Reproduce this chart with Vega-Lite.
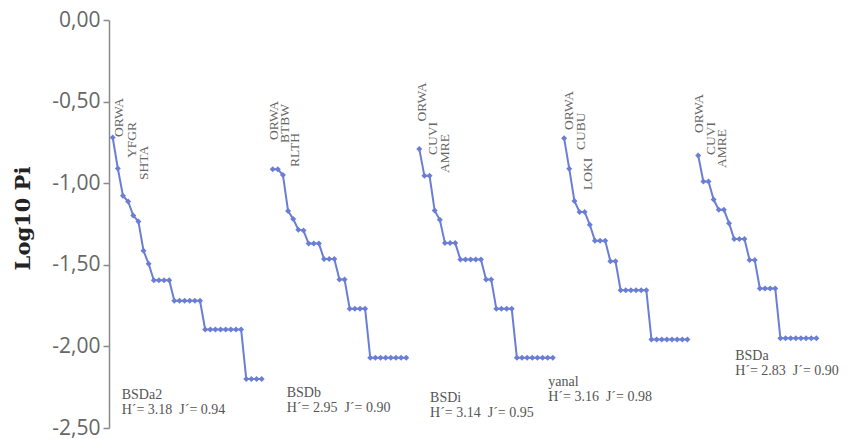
{
  "$schema": "https://vega.github.io/schema/vega-lite/v6.json",
  "autosize": {"type": "none"},
  "padding": {"left": 109, "top": 20, "right": 2, "bottom": 11},
  "width": 750,
  "height": 408,
  "background": "white",
  "config": {"view": {"stroke": null}},
  "datasets": {
    "curves": [
      {"site": "BSDa2", "x": 0.72, "logpi": -0.72}, {"site": "BSDa2", "x": 1.72, "logpi": -0.91}, {"site": "BSDa2", "x": 2.72, "logpi": -1.077}, {"site": "BSDa2", "x": 3.72, "logpi": -1.112}, {"site": "BSDa2", "x": 4.72, "logpi": -1.198}, {"site": "BSDa2", "x": 5.72, "logpi": -1.234}, {"site": "BSDa2", "x": 6.72, "logpi": -1.414}, {"site": "BSDa2", "x": 7.72, "logpi": -1.494},
      {"site": "BSDa2", "x": 8.72, "logpi": -1.595}, {"site": "BSDa2", "x": 9.72, "logpi": -1.595}, {"site": "BSDa2", "x": 10.72, "logpi": -1.595}, {"site": "BSDa2", "x": 11.72, "logpi": -1.595},
      {"site": "BSDa2", "x": 12.72, "logpi": -1.721}, {"site": "BSDa2", "x": 13.72, "logpi": -1.721}, {"site": "BSDa2", "x": 14.72, "logpi": -1.721}, {"site": "BSDa2", "x": 15.72, "logpi": -1.721}, {"site": "BSDa2", "x": 16.72, "logpi": -1.721}, {"site": "BSDa2", "x": 17.72, "logpi": -1.721},
      {"site": "BSDa2", "x": 18.72, "logpi": -1.896}, {"site": "BSDa2", "x": 19.72, "logpi": -1.896}, {"site": "BSDa2", "x": 20.72, "logpi": -1.896}, {"site": "BSDa2", "x": 21.72, "logpi": -1.896}, {"site": "BSDa2", "x": 22.72, "logpi": -1.896}, {"site": "BSDa2", "x": 23.72, "logpi": -1.896}, {"site": "BSDa2", "x": 24.72, "logpi": -1.896}, {"site": "BSDa2", "x": 25.72, "logpi": -1.896},
      {"site": "BSDa2", "x": 26.72, "logpi": -2.199}, {"site": "BSDa2", "x": 27.72, "logpi": -2.199}, {"site": "BSDa2", "x": 28.72, "logpi": -2.199}, {"site": "BSDa2", "x": 29.72, "logpi": -2.199},

      {"site": "BSDb", "x": 31.86, "logpi": -0.915}, {"site": "BSDb", "x": 32.86, "logpi": -0.915}, {"site": "BSDb", "x": 33.86, "logpi": -0.95}, {"site": "BSDb", "x": 34.86, "logpi": -1.17}, {"site": "BSDb", "x": 35.86, "logpi": -1.22}, {"site": "BSDb", "x": 36.86, "logpi": -1.285}, {"site": "BSDb", "x": 37.86, "logpi": -1.29},
      {"site": "BSDb", "x": 38.86, "logpi": -1.37}, {"site": "BSDb", "x": 39.86, "logpi": -1.37}, {"site": "BSDb", "x": 40.86, "logpi": -1.37},
      {"site": "BSDb", "x": 41.86, "logpi": -1.465}, {"site": "BSDb", "x": 42.86, "logpi": -1.465}, {"site": "BSDb", "x": 43.86, "logpi": -1.465},
      {"site": "BSDb", "x": 44.86, "logpi": -1.59}, {"site": "BSDb", "x": 45.86, "logpi": -1.59},
      {"site": "BSDb", "x": 46.86, "logpi": -1.77}, {"site": "BSDb", "x": 47.86, "logpi": -1.77}, {"site": "BSDb", "x": 48.86, "logpi": -1.77}, {"site": "BSDb", "x": 49.86, "logpi": -1.77},
      {"site": "BSDb", "x": 50.86, "logpi": -2.07}, {"site": "BSDb", "x": 51.86, "logpi": -2.07}, {"site": "BSDb", "x": 52.86, "logpi": -2.07}, {"site": "BSDb", "x": 53.86, "logpi": -2.07}, {"site": "BSDb", "x": 54.86, "logpi": -2.07}, {"site": "BSDb", "x": 55.86, "logpi": -2.07}, {"site": "BSDb", "x": 56.86, "logpi": -2.07}, {"site": "BSDb", "x": 57.86, "logpi": -2.07},

      {"site": "BSDi", "x": 60.4, "logpi": -0.79}, {"site": "BSDi", "x": 61.4, "logpi": -0.955}, {"site": "BSDi", "x": 62.4, "logpi": -0.955}, {"site": "BSDi", "x": 63.4, "logpi": -1.168}, {"site": "BSDi", "x": 64.4, "logpi": -1.224},
      {"site": "BSDi", "x": 65.4, "logpi": -1.367}, {"site": "BSDi", "x": 66.4, "logpi": -1.367}, {"site": "BSDi", "x": 67.4, "logpi": -1.367},
      {"site": "BSDi", "x": 68.4, "logpi": -1.467}, {"site": "BSDi", "x": 69.4, "logpi": -1.467}, {"site": "BSDi", "x": 70.4, "logpi": -1.467}, {"site": "BSDi", "x": 71.4, "logpi": -1.467}, {"site": "BSDi", "x": 72.4, "logpi": -1.467},
      {"site": "BSDi", "x": 73.4, "logpi": -1.59}, {"site": "BSDi", "x": 74.4, "logpi": -1.59},
      {"site": "BSDi", "x": 75.4, "logpi": -1.77}, {"site": "BSDi", "x": 76.4, "logpi": -1.77}, {"site": "BSDi", "x": 77.4, "logpi": -1.77}, {"site": "BSDi", "x": 78.4, "logpi": -1.77},
      {"site": "BSDi", "x": 79.4, "logpi": -2.07}, {"site": "BSDi", "x": 80.4, "logpi": -2.07}, {"site": "BSDi", "x": 81.4, "logpi": -2.07}, {"site": "BSDi", "x": 82.4, "logpi": -2.07}, {"site": "BSDi", "x": 83.4, "logpi": -2.07}, {"site": "BSDi", "x": 84.4, "logpi": -2.07}, {"site": "BSDi", "x": 85.4, "logpi": -2.07}, {"site": "BSDi", "x": 86.4, "logpi": -2.07},

      {"site": "yanal", "x": 88.6, "logpi": -0.725}, {"site": "yanal", "x": 89.6, "logpi": -0.912}, {"site": "yanal", "x": 90.6, "logpi": -1.109}, {"site": "yanal", "x": 91.6, "logpi": -1.176}, {"site": "yanal", "x": 92.6, "logpi": -1.176}, {"site": "yanal", "x": 93.6, "logpi": -1.255},
      {"site": "yanal", "x": 94.6, "logpi": -1.352}, {"site": "yanal", "x": 95.6, "logpi": -1.352}, {"site": "yanal", "x": 96.6, "logpi": -1.352},
      {"site": "yanal", "x": 97.6, "logpi": -1.478}, {"site": "yanal", "x": 98.6, "logpi": -1.478},
      {"site": "yanal", "x": 99.6, "logpi": -1.656}, {"site": "yanal", "x": 100.6, "logpi": -1.656}, {"site": "yanal", "x": 101.6, "logpi": -1.656}, {"site": "yanal", "x": 102.6, "logpi": -1.656}, {"site": "yanal", "x": 103.6, "logpi": -1.656}, {"site": "yanal", "x": 104.6, "logpi": -1.656},
      {"site": "yanal", "x": 105.6, "logpi": -1.957}, {"site": "yanal", "x": 106.6, "logpi": -1.957}, {"site": "yanal", "x": 107.6, "logpi": -1.957}, {"site": "yanal", "x": 108.6, "logpi": -1.957}, {"site": "yanal", "x": 109.6, "logpi": -1.957}, {"site": "yanal", "x": 110.6, "logpi": -1.957}, {"site": "yanal", "x": 111.6, "logpi": -1.957}, {"site": "yanal", "x": 112.6, "logpi": -1.957},

      {"site": "BSDa", "x": 114.7, "logpi": -0.83}, {"site": "BSDa", "x": 115.7, "logpi": -0.99}, {"site": "BSDa", "x": 116.7, "logpi": -0.99}, {"site": "BSDa", "x": 117.7, "logpi": -1.1}, {"site": "BSDa", "x": 118.7, "logpi": -1.163}, {"site": "BSDa", "x": 119.7, "logpi": -1.163}, {"site": "BSDa", "x": 120.7, "logpi": -1.245},
      {"site": "BSDa", "x": 121.7, "logpi": -1.342}, {"site": "BSDa", "x": 122.7, "logpi": -1.342}, {"site": "BSDa", "x": 123.7, "logpi": -1.342},
      {"site": "BSDa", "x": 124.7, "logpi": -1.47}, {"site": "BSDa", "x": 125.7, "logpi": -1.47},
      {"site": "BSDa", "x": 126.7, "logpi": -1.645}, {"site": "BSDa", "x": 127.7, "logpi": -1.645}, {"site": "BSDa", "x": 128.7, "logpi": -1.645}, {"site": "BSDa", "x": 129.7, "logpi": -1.645},
      {"site": "BSDa", "x": 130.7, "logpi": -1.95}, {"site": "BSDa", "x": 131.7, "logpi": -1.95}, {"site": "BSDa", "x": 132.7, "logpi": -1.95}, {"site": "BSDa", "x": 133.7, "logpi": -1.95}, {"site": "BSDa", "x": 134.7, "logpi": -1.95}, {"site": "BSDa", "x": 135.7, "logpi": -1.95}, {"site": "BSDa", "x": 136.7, "logpi": -1.95}, {"site": "BSDa", "x": 137.7, "logpi": -1.95}
    ],
    "species": [
      {"label": "ORWA", "x": 1.95, "logpi": -0.717}, {"label": "YFGR", "x": 4.48, "logpi": -0.846}, {"label": "SHTA", "x": 6.81, "logpi": -0.98},
      {"label": "ORWA", "x": 32.1, "logpi": -0.735}, {"label": "BTBW", "x": 34.3, "logpi": -0.754}, {"label": "RLTH", "x": 36.3, "logpi": -0.901},
      {"label": "ORWA", "x": 60.9, "logpi": -0.622}, {"label": "CUVI", "x": 63.1, "logpi": -0.827}, {"label": "AMRE", "x": 65.5, "logpi": -0.938},
      {"label": "ORWA", "x": 89.5, "logpi": -0.674}, {"label": "CUBU", "x": 91.9, "logpi": -0.797}, {"label": "LOKI", "x": 93.3, "logpi": -1.042},
      {"label": "ORWA", "x": 114.9, "logpi": -0.692}, {"label": "CUVI", "x": 117.1, "logpi": -0.827}, {"label": "AMRE", "x": 119.3, "logpi": -0.907}
    ],
    "notes": [
      {"text": "BSDa2", "x": 2.47, "logpi": -2.322}, {"text": "H´= 3.18\u00a0\u00a0J´= 0.94", "x": 2.47, "logpi": -2.414},
      {"text": "BSDb", "x": 34.6, "logpi": -2.31}, {"text": "H´= 2.95\u00a0\u00a0J´= 0.90", "x": 34.6, "logpi": -2.4},
      {"text": "BSDi", "x": 62.5, "logpi": -2.34}, {"text": "H´= 3.14\u00a0\u00a0J´= 0.95", "x": 62.5, "logpi": -2.431},
      {"text": "yanal", "x": 85.5, "logpi": -2.245}, {"text": "H´= 3.16\u00a0\u00a0J´= 0.98", "x": 85.5, "logpi": -2.335},
      {"text": "BSDa", "x": 121.9, "logpi": -2.085}, {"text": "H´= 2.83\u00a0\u00a0J´= 0.90", "x": 121.9, "logpi": -2.175}
    ]
  },
  "encoding": {
    "x": {"field": "x", "type": "quantitative", "scale": {"domain": [0, 146], "nice": false, "zero": false}, "axis": null},
    "y": {"field": "logpi", "type": "quantitative", "scale": {"domain": [-2.5, 0], "nice": false},
      "axis": {"values": [0, -0.5, -1, -1.5, -2, -2.5], "labelExpr": "replace(replace(format(datum.value, '.2f'), '.', ','), '\u2212', '-')",
        "grid": false, "domainColor": "#8a8a8a", "domainWidth": 1.5, "tickColor": "#8a8a8a", "tickSize": 6, "tickWidth": 1.5,
        "labelFont": "Open Sans", "labelFontSize": 21, "labelColor": "#666666", "labelPadding": 3,
        "title": "Log10 Pi", "titleFont": "DejaVu Serif", "titleFontSize": 21, "titleFontWeight": "bold", "titleColor": "#222222",
        "titleAngle": 270, "titleX": -86, "titleY": 198, "titleAlign": "center", "titleBaseline": "middle"}}
  },
  "layer": [
    {"data": {"name": "curves"}, "mark": {"type": "line", "color": "#6b7ed6", "strokeWidth": 2},
      "encoding": {"detail": {"field": "site"}}},
    {"data": {"name": "curves"}, "mark": {"type": "point", "shape": "diamond", "filled": true, "color": "#6b7ed6", "size": 36, "opacity": 1}},
    {"data": {"name": "species"}, "mark": {"type": "text", "angle": 270, "align": "left", "baseline": "middle", "font": "Liberation Serif", "fontSize": 13.5, "color": "#666666"},
      "encoding": {"text": {"field": "label"}}},
    {"data": {"name": "notes"}, "mark": {"type": "text", "align": "left", "baseline": "alphabetic", "font": "Liberation Serif", "fontSize": 14, "color": "#555555"},
      "encoding": {"text": {"field": "text"}}}
  ]
}
